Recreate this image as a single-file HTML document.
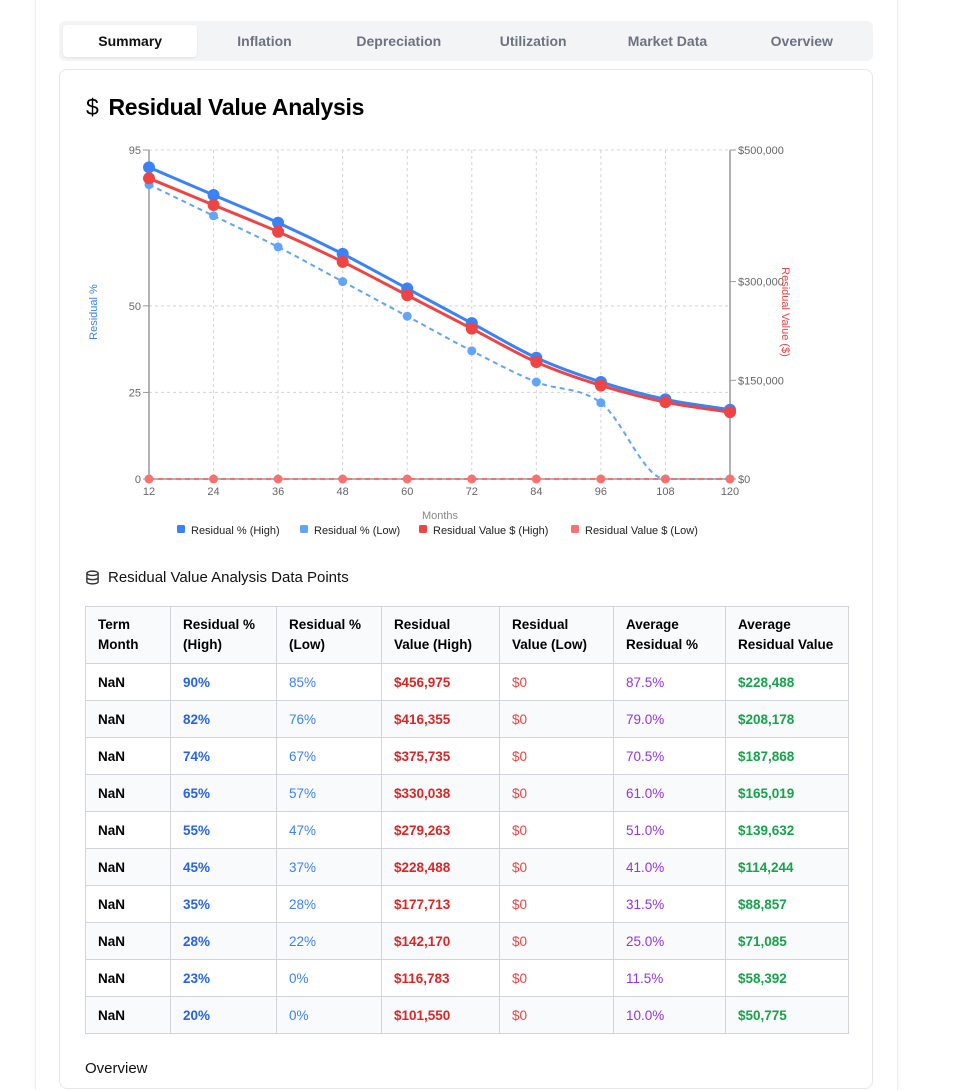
<!DOCTYPE html>
<html><head><meta charset="utf-8">
<style>
*{box-sizing:border-box;margin:0;padding:0}
body{width:969px;height:1070px;overflow:hidden;background:#fff;font-family:"Liberation Sans",sans-serif;position:relative}
.page{position:absolute;left:35px;top:-10px;width:863px;height:1100px;border-left:1px solid #eee;border-right:1px solid #eee;box-shadow:0 0 6px rgba(0,0,0,.05)}
.tabs{position:absolute;left:59px;top:21px;width:814px;height:40px;background:#f3f4f6;border-radius:6px;display:flex;padding:4px}
.tab{flex:1;text-align:center;font-size:14px;font-weight:bold;color:#6b7280;line-height:32px}
.tab.active{background:#fff;color:#111;border-radius:4px;box-shadow:0 1px 2px rgba(0,0,0,.08)}
.card{position:absolute;left:59px;top:69px;width:814px;height:1020px;border:1px solid #e5e7eb;border-radius:8px;background:#fff}
h2{position:absolute;left:86px;top:94px;font-size:23px;font-weight:bold;color:#000;letter-spacing:-0.3px}
h3{position:absolute;left:85px;top:569px;font-size:15px;font-weight:normal;color:#111;display:flex;align-items:center;gap:8px}
table{position:absolute;left:85px;top:606px;width:763px;border-collapse:collapse;font-size:13.5px;table-layout:fixed}
th,td{border:1px solid #d1d5db;padding:0 12px;text-align:left}
th{height:57px;background:#f9fafb;font-weight:bold;color:#000;line-height:20px;font-size:13.5px}
td{height:37px;font-weight:bold}
tbody tr:nth-child(even){background:#f9fafb}
.c1{color:#2563eb}.c2{color:#3b82f6;font-weight:normal}.c3{color:#dc2626}.c4{color:#ef4444;font-weight:normal}.c5{color:#9333ea;font-weight:normal}.c6{color:#16a34a}
.ov{position:absolute;left:85px;top:1060px;font-size:15px;color:#111}
</style></head><body>
<div class="page"></div>
<div class="tabs">
<div class="tab active">Summary</div>
<div class="tab">Inflation</div>
<div class="tab">Depreciation</div>
<div class="tab">Utilization</div>
<div class="tab">Market Data</div>
<div class="tab">Overview</div>
</div>
<div class="card"></div>
<h2><span style="font-weight:normal;margin-right:10px">$</span>Residual Value Analysis</h2>
<svg id="chart" style="position:absolute;left:0;top:0" width="969" height="560"></svg>
<h3><svg width="15" height="15" viewBox="0 0 16 16"><ellipse cx="8" cy="3.5" rx="6" ry="2.3" fill="none" stroke="#333" stroke-width="1.5"/><path d="M2 3.5v9c0 1.3 2.7 2.3 6 2.3s6-1 6-2.3v-9M2 8c0 1.3 2.7 2.3 6 2.3s6-1 6-2.3" fill="none" stroke="#333" stroke-width="1.5"/></svg>Residual Value Analysis Data Points</h3>
<table>
<colgroup><col style="width:85px"><col style="width:106px"><col style="width:105px"><col style="width:118px"><col style="width:114px"><col style="width:112px"><col style="width:123px"></colgroup>
<thead><tr><th>Term<br>Month</th><th>Residual %<br>(High)</th><th>Residual %<br>(Low)</th><th>Residual<br>Value (High)</th><th>Residual<br>Value (Low)</th><th>Average<br>Residual %</th><th style="white-space:nowrap">Average<br>Residual Value</th></tr></thead>
<tbody id="tb"></tbody></table>
<div class="ov">Overview</div>
<script>
const months=[12,24,36,48,60,72,84,96,108,120];
const pctHigh=[90,82,74,65,55,45,35,28,23,20];
const pctLow=[85,76,67,57,47,37,28,22,0,0];
const valHigh=[456975,416355,375735,330038,279263,228488,177713,142170,116783,101550];
const valLow=[0,0,0,0,0,0,0,0,0,0];
const avgPct=["87.5%","79.0%","70.5%","61.0%","51.0%","41.0%","31.5%","25.0%","11.5%","10.0%"];
const avgVal=[228488,208178,187868,165019,139632,114244,88857,71085,58392,50775];
const leftTicks=[0,25,50,95];
const rightTicks=[0,150000,300000,500000];
const NS="http://www.w3.org/2000/svg";
const svg=document.getElementById('chart');
const x=m=>149+(m-12)*(730-149)/108;
const yL=v=>479-v*(479-150)/95;
const yR=v=>479-v*(479-150)/500000;
function el(t,a,p){const e=document.createElementNS(NS,t);for(const k in a)e.setAttribute(k,a[k]);(p||svg).appendChild(e);return e;}
months.forEach(m=>{const g=el('line',{x1:x(m),x2:x(m),y1:150,y2:479,stroke:'#d4d4d4','stroke-dasharray':'3 3'});

});
leftTicks.forEach(v=>{const g=el('line',{x1:149,x2:730,y1:yL(v),y2:yL(v),stroke:'#d4d4d4','stroke-dasharray':'3 3'});

});
el('line',{x1:149,x2:149,y1:150,y2:479,stroke:'#999','stroke-width':1.5});
el('line',{x1:730,x2:730,y1:150,y2:479,stroke:'#999','stroke-width':1.5});
el('line',{x1:149,x2:730,y1:479,y2:479,stroke:'#999','stroke-width':1.5});
leftTicks.forEach(v=>{el('line',{x1:143,x2:149,y1:yL(v),y2:yL(v),stroke:'#999'});
const t=el('text',{x:141,y:yL(v)+4,'text-anchor':'end','font-size':11,fill:'#666'});t.textContent=v;

});
rightTicks.forEach(v=>{el('line',{x1:730,x2:736,y1:yR(v),y2:yR(v),stroke:'#999'});
const t=el('text',{x:738,y:yR(v)+4,'font-size':11,fill:'#666'});t.textContent='$'+v.toLocaleString('en-US');

});
months.forEach(m=>{const t=el('text',{x:x(m),y:495,'text-anchor':'middle','font-size':11,fill:'#666'});t.textContent=m;

});
let t=el('text',{x:440,y:519,'text-anchor':'middle','font-size':11,fill:'#888'});t.textContent='Months';

t=el('text',{x:97,y:312,'text-anchor':'middle','font-size':11,fill:'#3b82f6',transform:'rotate(-90 97 312)'});t.textContent='Residual %';

t=el('text',{x:782,y:312,'text-anchor':'middle','font-size':11,fill:'#ef4444',transform:'rotate(90 782 312)'});t.textContent='Residual Value ($)';

function monotone(p){const n=p.length,d=[],m=[];
for(let i=0;i<n-1;i++)d.push((p[i+1][1]-p[i][1])/(p[i+1][0]-p[i][0]));
m[0]=d[0];m[n-1]=d[n-2];
for(let i=1;i<n-1;i++){m[i]=(d[i-1]*d[i]<=0)?0:(d[i-1]+d[i])/2;}
for(let i=0;i<n-1;i++){if(d[i]===0){m[i]=0;m[i+1]=0;continue;}const a=m[i]/d[i],b=m[i+1]/d[i],s=a*a+b*b;if(s>9){const tt=3/Math.sqrt(s);m[i]=tt*a*d[i];m[i+1]=tt*b*d[i];}}
let s='M'+p[0][0]+','+p[0][1];
for(let i=0;i<n-1;i++){const h=(p[i+1][0]-p[i][0])/3;s+=` C${p[i][0]+h},${p[i][1]+m[i]*h} ${p[i+1][0]-h},${p[i+1][1]-m[i+1]*h} ${p[i+1][0]},${p[i+1][1]}`;}
return s;}
function series(vals,sc,color,w,dash,r,name){
const pts=vals.map((v,i)=>[x(months[i]),sc(v)]);
const p=el('path',{d:monotone(pts),fill:'none',stroke:color,'stroke-width':w,'stroke-dasharray':dash||''});


pts.forEach(q=>{const c=el('circle',{cx:q[0],cy:q[1],r:r,fill:color});

});}
series(pctLow,yL,'#60a5fa',2,'5 4',4.5,'pct-low');
series(valLow,yR,'#f87171',2,'5 4',4.5,'value-low');
series(pctHigh,yL,'#3b82f6',3,'',6,'pct-high');
series(valHigh,yR,'#ef4444',3,'',6,'value-high');
const legend=[['Residual % (High)','#3b82f6',177],['Residual % (Low)','#60a5fa',300],['Residual Value $ (High)','#ef4444',419],['Residual Value $ (Low)','#f87171',571]];
legend.forEach(l=>{const g=el('g',{});


el('rect',{x:l[2],y:525,width:8,height:8,rx:1.5,fill:l[1]},g);
const tt=el('text',{x:l[2]+14,y:534,'font-size':11,fill:'#222'},g);tt.textContent=l[0];});
const tb=document.getElementById('tb');
const f=v=>'$'+v.toLocaleString('en-US');
months.forEach((m,i)=>{const tr=document.createElement('tr');


tr.innerHTML=`<td>NaN</td><td class="c1">${pctHigh[i]}%</td><td class="c2">${pctLow[i]}%</td><td class="c3">${f(valHigh[i])}</td><td class="c4">${f(valLow[i])}</td><td class="c5">${avgPct[i]}</td><td class="c6">${f(avgVal[i])}</td>`;
tb.appendChild(tr);});
</script>
</body></html>
